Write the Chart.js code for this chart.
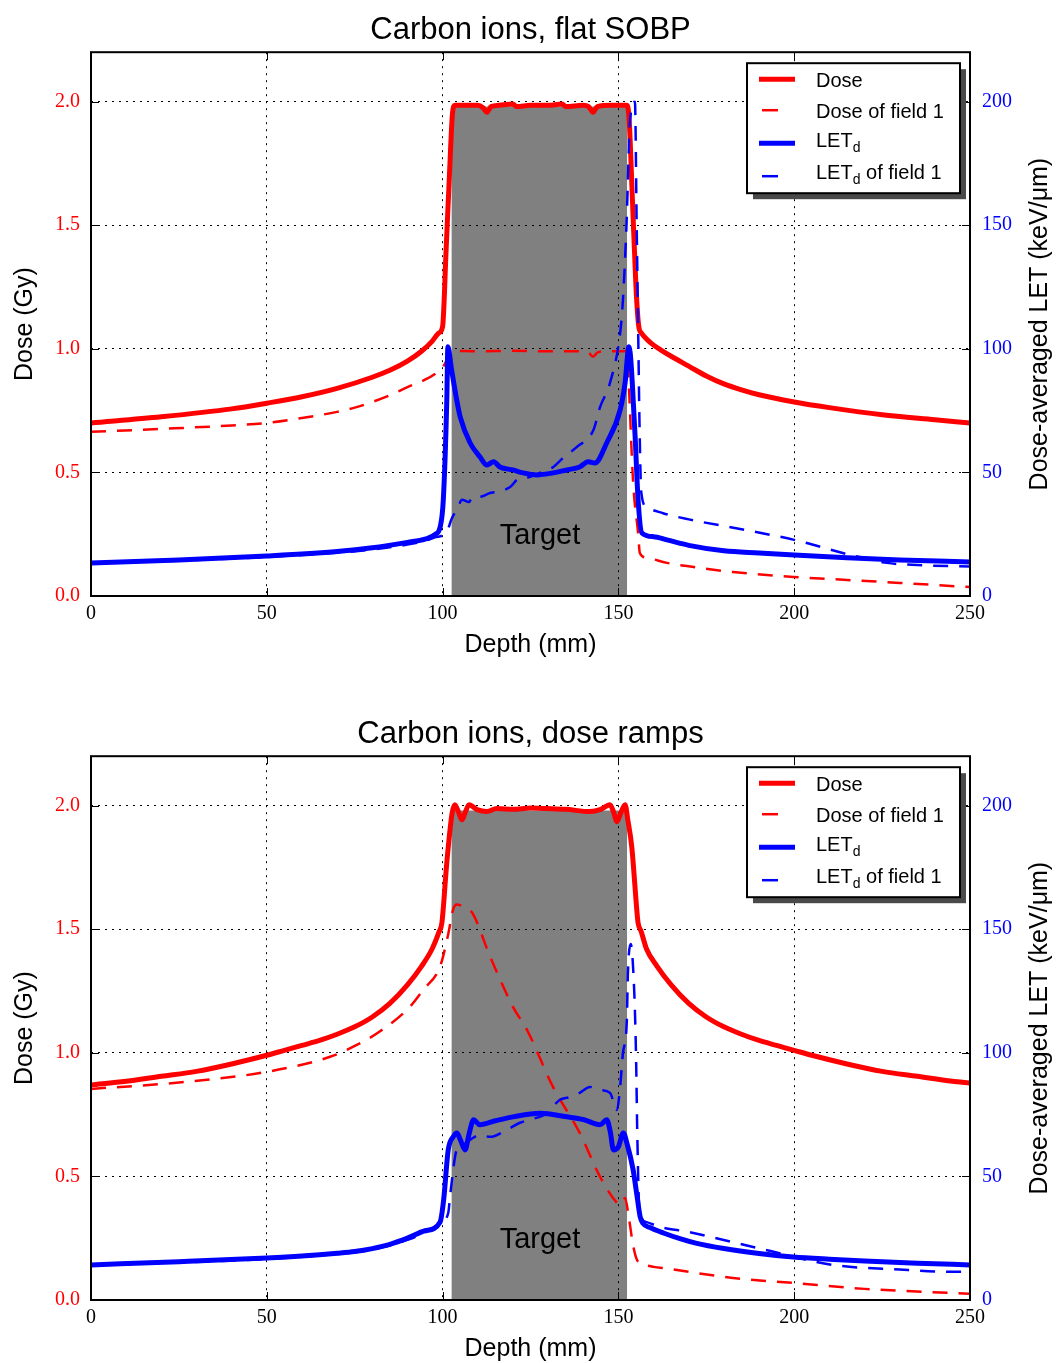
<!DOCTYPE html>
<html lang="en">
<head>
<meta charset="UTF-8">
<title>Carbon ions: dose and LET</title>
<style>
    html, body {
        margin: 0;
        padding: 0;
        background: #ffffff;
        overflow: hidden;
    }
    .panel {
        width: 1056px;
        height: 704px;
    }
    canvas {
        display: block;
    }
</style>
</head>
<body>
<div class="panel"><canvas id="sobpChart" width="1056" height="704"></canvas></div>
<div class="panel"><canvas id="rampChart" width="1056" height="704"></canvas></div>

<script src="https://cdn.jsdelivr.net/npm/chart.js@4"></script>
<script>
    // ---- axes ----
    const depthMin = 0, depthMax = 250, depthStep = 50;
    const doseMax = 2.2, doseStep = 0.5;
    const letMax = 220, letStep = 50;

    // ---- target region ----
    const targetDepth = [102.5, 152.5];
    const targetDose = [1.98, 1.98];
    const targetText = 'Target';
    const targetTextAt = [127.7, 0.243];   // depth (mm), dose (Gy)

    // ---- top panel: flat SOBP ----
    const sobpDoseDepth = [0, 20, 40, 50, 60, 70, 80, 85, 90, 94, 97, 99, 100, 101, 102, 102.8, 103.5,
        106, 110, 111.5, 112.6, 113.8, 116, 120, 121, 125, 130, 134, 135, 140, 141.5, 142.8, 144, 148, 152.3, 153, 154,
        155, 155.8, 156.5, 158, 160, 162, 165, 170, 175, 180, 185, 190, 200, 210, 225, 240, 250];
    const sobpDose = [0.70, 0.725, 0.757, 0.78, 0.806, 0.84, 0.885, 0.913, 0.95, 0.99, 1.03, 1.065, 1.09, 1.4, 1.72, 1.95, 1.985,
        1.985, 1.985, 1.975, 1.957, 1.98, 1.985, 1.99, 1.98, 1.985, 1.985, 1.99, 1.98, 1.985, 1.98, 1.957, 1.98, 1.985, 1.985, 1.94, 1.6,
        1.25, 1.09, 1.065, 1.04, 1.015, 0.996, 0.97, 0.93, 0.89, 0.858, 0.834, 0.814, 0.785, 0.762, 0.733, 0.713, 0.70];

    const sobpDoseF1Depth = [0, 20, 40, 50, 60, 70, 75, 80, 85, 90, 95, 98, 100, 101, 102, 103, 110, 120, 130, 140, 141.5,
        142.8, 144, 146, 152.3, 152.8, 154.2, 155.6, 156.1, 158, 163.8, 170, 182.6, 200, 215, 230, 250];
    const sobpDoseF1 = [0.664, 0.676, 0.69, 0.70, 0.72, 0.745, 0.762, 0.785, 0.812, 0.845, 0.875, 0.9, 0.925, 0.95, 0.985, 0.992, 0.99, 0.992, 0.99, 0.99, 0.985,
        0.968, 0.985, 0.99, 0.99, 0.9, 0.457, 0.255, 0.174, 0.155, 0.134, 0.12, 0.097, 0.077, 0.065, 0.053, 0.036];

    const sobpLetDepth = [0, 25, 50, 70, 80, 90, 95, 98, 99.3, 100.2, 101.2, 101.5, 102.5, 104, 105, 107.8, 110.6, 112.6, 114.5, 116.3,
        120, 122.9, 126.8, 131.5, 135.3, 139, 141.4, 143.3, 146.7, 150.5, 151.9, 153, 154.7, 155.6, 156.7, 160, 163.8, 170, 180, 190,
        200, 215, 230, 250];
    const sobpLet = [13.4, 14.6, 16.2, 18, 19.5, 21.7, 23, 25, 27.9, 38.9, 79.4, 100.8, 92, 79.4, 72.5, 62, 56.3, 53, 54.3, 52.2,
        51, 49.8, 49, 49.8, 51, 52.2, 54.3, 53.8, 62, 75.3, 86.2, 100.8, 66, 38.9, 25.5, 24, 22.7, 20.5, 18.3, 17.4,
        16.6, 15.5, 14.6, 13.8];

    const sobpLetF1Depth = [0, 25, 50, 60, 70, 80, 90, 95, 98, 100.2, 101.5, 102.5, 104.4, 105.5, 107.5, 108.5, 110.6, 113.5, 115, 119.2, 121.2, 124.9, 128, 131.5,
        134.3, 138.2, 142.9, 144.8, 147.6, 150.5, 151.3, 152.3, 153.3, 154.7, 155.2, 155.6, 156, 156.5, 158, 162.7, 170, 185, 200, 216,
        226.4, 235, 250];
    const sobpLetF1 = [13.2, 14.3, 15.8, 16.6, 17.5, 18.8, 20.8, 22.3, 23.8, 24.7, 27, 31, 36, 38.9, 38, 40, 40.1, 41.7, 42, 44.1, 47, 48.2, 50, 52.2,
        55.9, 60.3, 67.2, 76.5, 86.2, 106.5, 120, 150, 192, 200, 150, 110, 70, 42, 36, 33.5, 31, 27, 22.7, 16.6,
        13.4, 12.5, 11.9];

    // ---- bottom panel: dose ramps ----
    const rampDoseDepth = [0, 10, 20, 30, 40, 50, 55, 60, 65, 70, 75, 80, 85, 90, 94, 97, 99, 99.8, 101.2, 102.7, 103.5, 104.5, 105.5, 106.5, 107.5, 109.8, 112.6, 115.4, 120, 125,
        129.7, 135, 141.9, 145, 147.6, 148.6, 149.6, 150.8, 151.9, 152.7, 153.8, 155.3, 155.6, 156.5, 158, 161, 165, 170, 175, 180, 185, 190,
        195, 200, 205, 215, 225, 235, 245, 250];
    const rampDose = [0.87, 0.885, 0.905, 0.925, 0.955, 0.99, 1.01, 1.03, 1.05, 1.075, 1.105, 1.145, 1.2, 1.275, 1.35, 1.42, 1.49, 1.526, 1.77, 1.97, 2.004, 1.975, 1.943, 1.975, 2.004, 1.984, 1.976, 1.988, 1.985, 1.99,
        1.988, 1.985, 1.976, 1.985, 2.004, 1.975, 1.935, 1.975, 2.004, 1.94, 1.834, 1.567, 1.526, 1.49, 1.42, 1.35, 1.275, 1.2, 1.145, 1.105, 1.075, 1.05,
        1.03, 1.01, 0.99, 0.955, 0.925, 0.905, 0.885, 0.878];

    const rampDoseF1Depth = [0, 25, 50, 68, 75.6, 82, 90.7, 94.5, 99.3, 101.6, 103, 104, 106, 108.4, 113.5, 120, 124, 131.4, 139, 144.8,
        149.6, 150.5, 151.9, 153, 154.2, 155.3, 157, 160, 163.8, 182.6, 199.7, 220, 245, 250];
    const rampDoseF1 = [0.854, 0.88, 0.923, 0.984, 1.032, 1.085, 1.186, 1.255, 1.35, 1.48, 1.58, 1.6, 1.59, 1.567, 1.39, 1.186, 1.093, 0.862, 0.676, 0.498,
        0.393, 0.385, 0.413, 0.33, 0.22, 0.162, 0.145, 0.134, 0.127, 0.089, 0.069, 0.045, 0.028, 0.025];

    const rampLetDepth = [0, 25, 50, 60, 70, 75, 80, 85, 90, 95, 99.3, 100.3, 101.6, 103, 104.1, 105, 106.4, 107.5, 108.8, 110.6, 115, 120, 127.7, 135.3,
        140, 144.8, 146.7, 147.7, 148.6, 150, 151.4, 152.5, 154.2, 155.3, 156.2, 157, 159, 162.8, 167.5, 172, 180, 190, 199.7, 210, 220, 235, 250];
    const rampLet = [14.2, 15.5, 17, 17.8, 18.9, 19.6, 20.8, 22.5, 25, 28, 31.6, 40.5, 60.7, 66, 67.6, 65, 60.7, 67, 72.9, 70.9, 72.5, 74.1, 75.6, 74.1,
        73, 70.9, 72.9, 68, 60.7, 62, 67.6, 63, 52.6, 42, 33.6, 31, 29.3, 27.1, 24.8, 23, 20.8, 18.8, 17.4, 16.5, 15.8, 14.9, 14.2];

    const rampLetF1Depth = [0, 50, 60, 70, 75, 80, 85, 90, 95, 99.3, 101.6, 102.2, 104, 106, 108, 110.6, 113.5, 118.2, 122, 125, 129.7, 131.5, 133.4, 136,
        139, 141.9, 144.8, 147.6, 149.6, 150.6, 151.3, 152.4, 152.7, 153.5, 154.5, 155, 155.4, 156, 158, 161.8, 170, 192, 211, 230,
        245, 250];
    const rampLetF1 = [14, 16.6, 17.5, 18.6, 19.3, 20.4, 22, 24.3, 27.3, 31, 35.2, 43, 60.7, 63, 65, 66.8, 66, 68.8, 71.7, 73, 75.6, 78.5, 81, 82,
        83.8, 86.2, 85, 83.8, 76.9, 88, 100, 113, 132, 144, 125, 100, 65, 36, 31.5, 29.6, 27.5, 20.2, 14.2, 12.3,
        11.4, 11.4];

    const fontSans = '"Liberation Sans", Arial, sans-serif';
    const fontSerif = '"Liberation Serif", "Times New Roman", serif';

    function pts(xs, ys) {
        return xs.map((x, i) => ({ x: x, y: ys[i] }));
    }

    // grid over the grey target box, frame, inward ticks, right title, legend
    const panelDecor = {
        id: 'panelDecor',
        afterDatasetDraw(chart, args) {
            if (args.index !== 0) return;
            const { ctx, scales: { x, y } } = chart;
            const l = x.getPixelForValue(targetDepth[0]);
            const r = x.getPixelForValue(targetDepth[1]);
            const t = y.getPixelForValue(targetDose[0]);
            const b = y.getPixelForValue(0);
            ctx.save();
            ctx.beginPath();
            ctx.rect(l, t, r - l, b - t);
            ctx.clip();
            x.drawGrid(chart.chartArea);
            y.drawGrid(chart.chartArea);
            ctx.restore();
        },
        afterDatasetsDraw(chart) {
            const { ctx, scales: { x, y } } = chart;
            ctx.save();
            ctx.fillStyle = '#000';
            ctx.font = '29px ' + fontSans;
            ctx.textAlign = 'center';
            ctx.textBaseline = 'middle';
            ctx.fillText(targetText, x.getPixelForValue(targetTextAt[0]), y.getPixelForValue(targetTextAt[1]));
            ctx.restore();
        },
        afterDraw(chart) {
            const { ctx, chartArea: a, scales: { x, y, y1 } } = chart;
            ctx.save();
            ctx.strokeStyle = '#000';

            // inward tick marks
            ctx.lineWidth = 1;
            ctx.beginPath();
            x.ticks.forEach(t => {
                const px = Math.round(x.getPixelForValue(t.value)) + 0.5;
                ctx.moveTo(px, a.bottom); ctx.lineTo(px, a.bottom - 8);
                ctx.moveTo(px, a.top); ctx.lineTo(px, a.top + 8);
            });
            y.ticks.forEach(t => {
                const py = Math.round(y.getPixelForValue(t.value)) + 0.5;
                ctx.moveTo(a.left, py); ctx.lineTo(a.left + 8, py);
            });
            y1.ticks.forEach(t => {
                const py = Math.round(y1.getPixelForValue(t.value)) + 0.5;
                ctx.moveTo(a.right, py); ctx.lineTo(a.right - 8, py);
            });
            ctx.stroke();

            // frame
            ctx.lineWidth = 2;
            ctx.strokeRect(a.left, a.top, a.right - a.left, a.bottom - a.top);

            // right axis title, reading upwards
            ctx.fillStyle = '#000';
            ctx.font = '25px ' + fontSans;
            ctx.textAlign = 'center';
            ctx.textBaseline = 'middle';
            ctx.translate(1040, (a.top + a.bottom) / 2);
            ctx.rotate(-Math.PI / 2);
            ctx.fillText('Dose-averaged LET (keV/\u03bcm)', 0, 0);
            ctx.restore();

            drawLegend(chart);
        }
    };

    function drawLegend(chart) {
        const { ctx, chartArea: a } = chart;
        const w = 213, h = 130;
        const bx = a.right - 223, by = a.top + 11;
        const sampleY = [16, 47, 80, 113];
        const textY = [24, 55, 84, 116];

        ctx.save();
        ctx.fillStyle = '#4a4a4a';
        ctx.fillRect(bx + 6, by + 6, w, h);
        ctx.fillStyle = '#fff';
        ctx.fillRect(bx, by, w, h);
        ctx.lineWidth = 2;
        ctx.strokeStyle = '#000';
        ctx.strokeRect(bx, by, w, h);

        const entries = chart.data.datasets.filter(ds => ds.label !== 'Target');
        entries.forEach((ds, i) => {
            const sy = by + sampleY[i];
            ctx.strokeStyle = ds.borderColor;
            ctx.lineWidth = ds.borderWidth;
            ctx.beginPath();
            if (ds.borderDash) {
                ctx.moveTo(bx + 15, sy); ctx.lineTo(bx + 31, sy);
            } else {
                ctx.moveTo(bx + 12, sy); ctx.lineTo(bx + 48, sy);
            }
            ctx.stroke();

            const ty = by + textY[i];
            let tx = bx + 69;
            ctx.fillStyle = '#000';
            ctx.textBaseline = 'alphabetic';
            ctx.textAlign = 'left';
            ctx.font = '20px ' + fontSans;
            if (ds.label.startsWith('LETd')) {
                ctx.fillText('LET', tx, ty);
                tx += ctx.measureText('LET').width;
                ctx.font = '14px ' + fontSans;
                ctx.fillText('d', tx, ty + 5);
                tx += ctx.measureText('d').width;
                ctx.font = '20px ' + fontSans;
                ctx.fillText(ds.label.slice(4), tx, ty);
            } else {
                ctx.fillText(ds.label, tx, ty);
            }
        });
        ctx.restore();
    }

    function makePanel(canvasId, titleText, d) {
        const dashed = [15, 11];
        return new Chart(document.getElementById(canvasId), {
            type: 'line',
            data: {
                datasets: [
                    {
                        label: 'Target',
                        data: pts(targetDepth, targetDose),
                        yAxisID: 'y',
                        fill: 'origin',
                        backgroundColor: '#808080',
                        borderColor: 'rgba(0,0,0,0)',
                        borderWidth: 0,
                        cubicInterpolationMode: 'default',
                        order: 10
                    },
                    {
                        label: 'Dose',
                        data: pts(d.doseDepth, d.dose),
                        yAxisID: 'y',
                        borderColor: '#ff0000',
                        borderWidth: 5,
                        order: 4
                    },
                    {
                        label: 'Dose of field 1',
                        data: pts(d.doseF1Depth, d.doseF1),
                        yAxisID: 'y',
                        borderColor: '#ff0000',
                        borderWidth: 2.5,
                        borderDash: dashed,
                        order: 3
                    },
                    {
                        label: 'LETd',
                        data: pts(d.letDepth, d.let),
                        yAxisID: 'y1',
                        borderColor: '#0000ff',
                        borderWidth: 5,
                        order: 2
                    },
                    {
                        label: 'LETd of field 1',
                        data: pts(d.letF1Depth, d.letF1),
                        yAxisID: 'y1',
                        borderColor: '#0000ff',
                        borderWidth: 2.5,
                        borderDash: dashed,
                        order: 1
                    }
                ]
            },
            options: {
                responsive: false,
                animation: false,
                devicePixelRatio: 1,
                events: [],
                layout: { padding: 0 },
                elements: {
                    point: { radius: 0 },
                    line: { fill: false, borderJoinStyle: 'round', cubicInterpolationMode: 'monotone' }
                },
                plugins: {
                    legend: { display: false },
                    tooltip: { enabled: false },
                    title: {
                        display: true,
                        text: titleText,
                        fullSize: false,
                        color: '#000',
                        font: { family: fontSans, size: 31, weight: 'normal' },
                        padding: { top: 12, bottom: 3 }
                    }
                },
                scales: {
                    x: {
                        type: 'linear',
                        min: depthMin,
                        max: depthMax,
                        afterFit: sc => { sc.height = 108; },
                        ticks: {
                            stepSize: depthStep,
                            color: '#000',
                            padding: 6,
                            maxRotation: 0,
                            font: { family: fontSerif, size: 20 }
                        },
                        grid: { color: '#000', lineWidth: 1, drawTicks: false },
                        border: { display: false, dash: [2, 5] },
                        title: {
                            display: true,
                            text: 'Depth (mm)',
                            color: '#000',
                            font: { family: fontSans, size: 25 },
                            padding: { top: 0, bottom: 44 }
                        }
                    },
                    y: {
                        position: 'left',
                        min: 0,
                        max: doseMax,
                        afterFit: sc => { sc.width = 91; },
                        ticks: {
                            stepSize: doseStep,
                            includeBounds: false,
                            color: '#ff0000',
                            padding: 11,
                            font: { family: fontSerif, size: 20 },
                            callback: v => v.toFixed(1)
                        },
                        grid: { color: '#000', lineWidth: 1, drawTicks: false },
                        border: { display: false, dash: [2, 5] },
                        title: {
                            display: true,
                            text: 'Dose (Gy)',
                            color: '#000',
                            font: { family: fontSans, size: 25 },
                            padding: { top: 10, bottom: 0 }
                        }
                    },
                    y1: {
                        position: 'right',
                        min: 0,
                        max: letMax,
                        afterFit: sc => { sc.width = 86; },
                        ticks: {
                            stepSize: letStep,
                            includeBounds: false,
                            color: '#0000ff',
                            padding: 12,
                            font: { family: fontSerif, size: 20 }
                        },
                        grid: { drawOnChartArea: false, drawTicks: false },
                        border: { display: false }
                    }
                }
            },
            plugins: [panelDecor]
        });
    }

    makePanel('sobpChart', 'Carbon ions, flat SOBP', {
        doseDepth: sobpDoseDepth, dose: sobpDose,
        doseF1Depth: sobpDoseF1Depth, doseF1: sobpDoseF1,
        letDepth: sobpLetDepth, let: sobpLet,
        letF1Depth: sobpLetF1Depth, letF1: sobpLetF1
    });

    makePanel('rampChart', 'Carbon ions, dose ramps', {
        doseDepth: rampDoseDepth, dose: rampDose,
        doseF1Depth: rampDoseF1Depth, doseF1: rampDoseF1,
        letDepth: rampLetDepth, let: rampLet,
        letF1Depth: rampLetF1Depth, letF1: rampLetF1
    });
</script>
</body>
</html>
